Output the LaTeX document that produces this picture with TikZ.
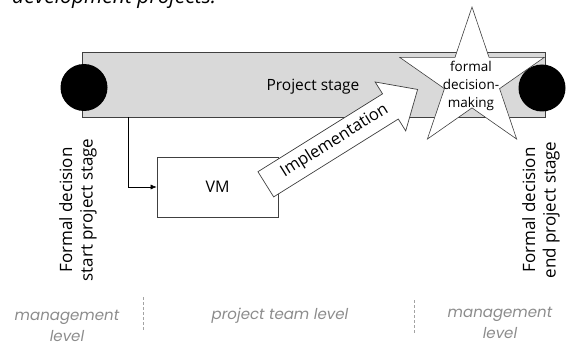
\documentclass[tikz,border=0pt]{standalone}
\usepackage{fontspec}
\setmainfont{Open Sans}
\newfontfamily\levelfont{Poppins}
\usetikzlibrary{shapes.geometric,shapes.arrows,arrows.meta,calc}
\definecolor{barfill}{HTML}{D9D9D9}
\definecolor{edge}{HTML}{404040}
\definecolor{levelgray}{HTML}{8C8C8C}
\tikzset{
  stagebar/.style={draw=edge, fill=barfill, line width=0.8pt},
  milestone/.style={circle, fill=black, inner sep=0pt, minimum size=47pt},
  decision/.style={star, star points=5, star point ratio=2.618, draw=edge, fill=white,
    line width=0.6pt, inner sep=0pt, minimum size=146pt, xscale=1.04},
  taskbox/.style={draw=edge, fill=white, line width=0.7pt, minimum width=121pt,
    minimum height=60pt, font=\fontsize{16pt}{20pt}\selectfont},
  bigarrow/.style={single arrow, draw=edge, fill=white, line width=0.7pt,
    minimum height=179pt, single arrow head extend=14pt, single arrow tip angle=84,
    inner xsep=4pt, inner ysep=6.5pt, text height=12pt, text depth=4pt,
    font=\fontsize{16.5pt}{18pt}\selectfont},
  vlabel/.style={rotate=90, align=center, font=\fontsize{17pt}{20.5pt}\selectfont},
  levellabel/.style={align=center, text=levelgray, font=\levelfont\fontsize{15pt}{21pt}\selectfont\itshape},
  separator/.style={draw=levelgray!80, dashed, dash pattern=on 3pt off 2pt, line width=0.5pt},
  flow/.style={draw=black, line width=0.6pt, -{Latex[length=6pt,width=5pt]}}
}
\begin{document}
\begin{tikzpicture}[x=1pt,y=-1pt]
\useasboundingbox (0,0) rectangle (567,342);

% heading line of the page
\node[anchor=base west, inner sep=0pt, font=\fontsize{21pt}{24pt}\selectfont\itshape]
  (heading) at (12,4) {development projects.};

% project stage bar
\node[stagebar, minimum width=463pt, minimum height=65pt, inner sep=0pt]
  (bar) at (313.5,84.5) {};
\node[font=\fontsize{15.5pt}{20pt}\selectfont] (stage) at (313,87) {Project stage};

% VM activity and its trigger from the stage
\node[taskbox] (vm) at (217.5,187) {VM};
\draw[flow] ($(bar.south west)+(47,0)$) |- (vm.west);

% implementation arrow
\node[bigarrow, rotate=32, anchor=tail] (impl) at (265.5,184.5) {Implementation};

% formal decision-making star
\node[decision] (star) at (472,80) {};
\node[align=center, inner sep=0pt, font=\fontsize{13.5pt}{18pt}\selectfont]
  (startext) at (471,86) {formal\\decision-\\making};

% start and end milestones
\node[milestone] (start) at (84,87.5) {};
\node[milestone] (finish) at (542,88) {};

% milestone captions
\node[vlabel] (startlbl) at (78,210) {Formal decision\\start project stage};
\node[vlabel] (endlbl) at (541,210) {Formal decision\\end project stage};

% level captions and separators
\node[levellabel] (mgmtL) at (67,326) {management\\level};
\node[levellabel] (team) at (280,316) {project team level};
\node[levellabel] (mgmtR) at (500,323) {management\\level};
\coordinate (sepLa) at (143,297);
\coordinate (sepLb) at (143,330);
\coordinate (sepRa) at (414,300);
\coordinate (sepRb) at (414,333);
\draw[separator] (sepLa) -- (sepLb);
\draw[separator] (sepRa) -- (sepRb);
\end{tikzpicture}
\end{document}
